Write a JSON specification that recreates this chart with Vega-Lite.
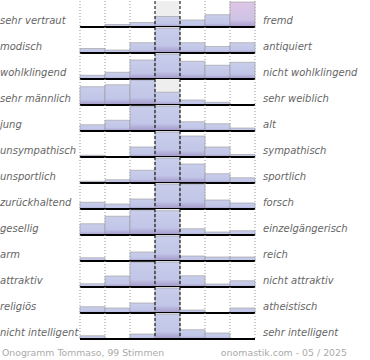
{
  "$schema": "https://vega.github.io/schema/vega-lite/v6.json",
  "padding": 0,
  "spacing": {"row": 0, "column": 0},
  "bounds": "flush",
  "datasets": {
    "labels": [
      {"r": 1, "left": "sehr vertraut", "right": "fremd"},
      {"r": 2, "left": "modisch", "right": "antiquiert"},
      {"r": 3, "left": "wohlklingend", "right": "nicht wohlklingend"},
      {"r": 4, "left": "sehr männlich", "right": "sehr weiblich"},
      {"r": 5, "left": "\u00a0jung", "right": "alt"},
      {"r": 6, "left": "unsympathisch", "right": "sympathisch"},
      {"r": 7, "left": "unsportlich", "right": "sportlich"},
      {"r": 8, "left": "zurückhaltend", "right": "forsch"},
      {"r": 9, "left": "gesellig", "right": "einzelgängerisch"},
      {"r": 10, "left": "arm", "right": "reich"},
      {"r": 11, "left": "attraktiv", "right": "nicht attraktiv"},
      {"r": 12, "left": "religiös", "right": "atheistisch"},
      {"r": 13, "left": "nicht intelligent", "right": "sehr intelligent"}
    ]
  },
  "data": {
    "values": [
      {"r": 1, "c": 1, "v": 0}, {"r": 1, "c": 2, "v": 0.1}, {"r": 1, "c": 3, "v": 0.18}, {"r": 1, "c": 4, "v": 0.42}, {"r": 1, "c": 5, "v": 0.28}, {"r": 1, "c": 6, "v": 0.49}, {"r": 1, "c": 7, "v": 1.0},
      {"r": 2, "c": 1, "v": 0.18}, {"r": 2, "c": 2, "v": 0.12}, {"r": 2, "c": 3, "v": 0.41}, {"r": 2, "c": 4, "v": 1.0}, {"r": 2, "c": 5, "v": 0.41}, {"r": 2, "c": 6, "v": 0.26}, {"r": 2, "c": 7, "v": 0.41},
      {"r": 3, "c": 1, "v": 0.15}, {"r": 3, "c": 2, "v": 0.27}, {"r": 3, "c": 3, "v": 0.76}, {"r": 3, "c": 4, "v": 1.0}, {"r": 3, "c": 5, "v": 0.71}, {"r": 3, "c": 6, "v": 0.55}, {"r": 3, "c": 7, "v": 0.67},
      {"r": 4, "c": 1, "v": 0.73}, {"r": 4, "c": 2, "v": 0.81}, {"r": 4, "c": 3, "v": 1.0}, {"r": 4, "c": 4, "v": 0.51}, {"r": 4, "c": 5, "v": 0.2}, {"r": 4, "c": 6, "v": 0.11}, {"r": 4, "c": 7, "v": 0},
      {"r": 5, "c": 1, "v": 0.25}, {"r": 5, "c": 2, "v": 0.43}, {"r": 5, "c": 3, "v": 1.0}, {"r": 5, "c": 4, "v": 1.0}, {"r": 5, "c": 5, "v": 0.37}, {"r": 5, "c": 6, "v": 0.29}, {"r": 5, "c": 7, "v": 0.12},
      {"r": 6, "c": 1, "v": 0.07}, {"r": 6, "c": 2, "v": 0.02}, {"r": 6, "c": 3, "v": 0.4}, {"r": 6, "c": 4, "v": 1.0}, {"r": 6, "c": 5, "v": 0.84}, {"r": 6, "c": 6, "v": 0.4}, {"r": 6, "c": 7, "v": 0.1},
      {"r": 7, "c": 1, "v": 0.07}, {"r": 7, "c": 2, "v": 0.13}, {"r": 7, "c": 3, "v": 0.51}, {"r": 7, "c": 4, "v": 1.0}, {"r": 7, "c": 5, "v": 0.76}, {"r": 7, "c": 6, "v": 0.37}, {"r": 7, "c": 7, "v": 0.21},
      {"r": 8, "c": 1, "v": 0.27}, {"r": 8, "c": 2, "v": 0.2}, {"r": 8, "c": 3, "v": 0.4}, {"r": 8, "c": 4, "v": 1.0}, {"r": 8, "c": 5, "v": 1.0}, {"r": 8, "c": 6, "v": 0.36}, {"r": 8, "c": 7, "v": 0.24},
      {"r": 9, "c": 1, "v": 0.45}, {"r": 9, "c": 2, "v": 0.75}, {"r": 9, "c": 3, "v": 1.0}, {"r": 9, "c": 4, "v": 0.97}, {"r": 9, "c": 5, "v": 0.25}, {"r": 9, "c": 6, "v": 0.12}, {"r": 9, "c": 7, "v": 0.17},
      {"r": 10, "c": 1, "v": 0.13}, {"r": 10, "c": 2, "v": 0}, {"r": 10, "c": 3, "v": 0.36}, {"r": 10, "c": 4, "v": 1.0}, {"r": 10, "c": 5, "v": 0.2}, {"r": 10, "c": 6, "v": 0.16}, {"r": 10, "c": 7, "v": 0.16},
      {"r": 11, "c": 1, "v": 0.13}, {"r": 11, "c": 2, "v": 0.44}, {"r": 11, "c": 3, "v": 1.0}, {"r": 11, "c": 4, "v": 1.0}, {"r": 11, "c": 5, "v": 0.45}, {"r": 11, "c": 6, "v": 0.12}, {"r": 11, "c": 7, "v": 0.25},
      {"r": 12, "c": 1, "v": 0.25}, {"r": 12, "c": 2, "v": 0.2}, {"r": 12, "c": 3, "v": 0.4}, {"r": 12, "c": 4, "v": 1.0}, {"r": 12, "c": 5, "v": 0.12}, {"r": 12, "c": 6, "v": 0}, {"r": 12, "c": 7, "v": 0.2},
      {"r": 13, "c": 1, "v": 0.13}, {"r": 13, "c": 2, "v": 0}, {"r": 13, "c": 3, "v": 0.2}, {"r": 13, "c": 4, "v": 1.0}, {"r": 13, "c": 5, "v": 0.37}, {"r": 13, "c": 6, "v": 0.24}, {"r": 13, "c": 7, "v": 0}
    ]
  },
  "transform": [
    {"lookup": "r", "from": {"data": {"name": "labels"}, "key": "r", "fields": ["left", "right"]}}
  ],
  "facet": {
    "row": {"field": "r", "type": "ordinal", "header": {"labels": false, "title": null, "labelPadding": 0, "titlePadding": 0}, "title": null}
  },
  "spec": {
    "width": 175,
    "height": 26,
    "layer": [
      {
        "transform": [{"filter": "datum.c == 4"}],
        "mark": {"type": "rect", "fill": "#eeeeee"},
        "encoding": {
          "x": {"field": "c", "type": "ordinal", "scale": {"paddingInner": 0, "paddingOuter": 0}, "axis": null}
        }
      },
      {
        "transform": [{"filter": "datum.c != 4 && datum.c != 5"}],
        "mark": {"type": "rule", "stroke": "#999999", "strokeWidth": 1, "strokeDash": [1, 2]},
        "encoding": {
          "x": {"field": "c", "type": "ordinal", "bandPosition": 0, "axis": null}
        }
      },
      {
        "transform": [{"filter": "datum.c == 7"}],
        "mark": {"type": "rule", "stroke": "#999999", "strokeWidth": 1, "strokeDash": [1, 2]},
        "encoding": {
          "x": {"field": "c", "type": "ordinal", "bandPosition": 1, "axis": null}
        }
      },
      {
        "transform": [{"filter": "!(datum.r == 1 && datum.c == 7)"}],
        "mark": {
          "type": "bar",
          "stroke": "#999999",
          "strokeWidth": 0.6,
          "fill": {
            "gradient": "linear", "x1": 0, "y1": 0, "x2": 0, "y2": 1,
            "stops": [
              {"offset": 0, "color": "#c9ceeb"},
              {"offset": 0.7, "color": "#c1c5e7"},
              {"offset": 1, "color": "#a296c8"}
            ]
          }
        },
        "encoding": {
          "x": {"field": "c", "type": "ordinal", "axis": null},
          "y": {"field": "v", "type": "quantitative", "scale": {"domain": [0, 1.04], "nice": false}, "axis": null}
        }
      },
      {
        "transform": [{"filter": "datum.r == 1 && datum.c == 7"}],
        "mark": {
          "type": "bar",
          "stroke": "#999999",
          "strokeWidth": 0.6,
          "fill": {
            "gradient": "linear", "x1": 0, "y1": 0, "x2": 0, "y2": 1,
            "stops": [
              {"offset": 0, "color": "#dec6e6"},
              {"offset": 0.7, "color": "#cfc3e6"},
              {"offset": 1, "color": "#a698cb"}
            ]
          }
        },
        "encoding": {
          "x": {"field": "c", "type": "ordinal", "axis": null},
          "y": {"field": "v", "type": "quantitative", "axis": null}
        }
      },
      {
        "transform": [{"filter": "datum.c == 4 || datum.c == 5"}],
        "mark": {"type": "rule", "stroke": "#000000", "strokeWidth": 1, "strokeDash": [3, 2]},
        "encoding": {
          "x": {"field": "c", "type": "ordinal", "bandPosition": 0, "axis": null}
        }
      },
      {
        "transform": [{"filter": "datum.c == 1"}],
        "mark": {"type": "rule", "stroke": "#000000", "strokeWidth": 2},
        "encoding": {
          "y": {"datum": 0, "type": "quantitative"}
        }
      },
      {
        "transform": [{"filter": "datum.c == 1"}],
        "mark": {"type": "text", "align": "left", "baseline": "middle", "dx": -80, "font": "DejaVu Sans", "fontStyle": "italic", "fontSize": 10, "fill": "#666666"},
        "encoding": {
          "x": {"field": "c", "type": "ordinal", "bandPosition": 0, "axis": null},
          "y": {"datum": 0.25, "type": "quantitative"},
          "text": {"field": "left"}
        }
      },
      {
        "transform": [{"filter": "datum.c == 7"}],
        "mark": {"type": "text", "align": "left", "baseline": "middle", "dx": 8, "font": "DejaVu Sans", "fontStyle": "italic", "fontSize": 10, "fill": "#666666"},
        "encoding": {
          "x": {"field": "c", "type": "ordinal", "bandPosition": 1, "axis": null},
          "y": {"datum": 0.25, "type": "quantitative"},
          "text": {"field": "right"}
        }
      },
      {
        "transform": [{"filter": "datum.r == 13 && datum.c == 1"}],
        "mark": {"type": "text", "align": "left", "baseline": "middle", "dx": -78, "dy": 14, "font": "DejaVu Sans", "fontSize": 9.3, "fill": "#aaaaaa", "text": "Onogramm Tommaso, 99 Stimmen"},
        "encoding": {
          "x": {"field": "c", "type": "ordinal", "bandPosition": 0, "axis": null},
          "y": {"datum": 0, "type": "quantitative"}
        }
      },
      {
        "transform": [{"filter": "datum.r == 13 && datum.c == 7"}],
        "mark": {"type": "text", "align": "right", "baseline": "middle", "dx": 92, "dy": 14, "font": "DejaVu Sans", "fontSize": 9.4, "fill": "#aaaaaa", "text": "onomastik.com - 05 / 2025"},
        "encoding": {
          "x": {"field": "c", "type": "ordinal", "bandPosition": 1, "axis": null},
          "y": {"datum": 0, "type": "quantitative"}
        }
      }
    ]
  },
  "config": {"view": {"stroke": null}, "facet": {"spacing": 0}}
}
